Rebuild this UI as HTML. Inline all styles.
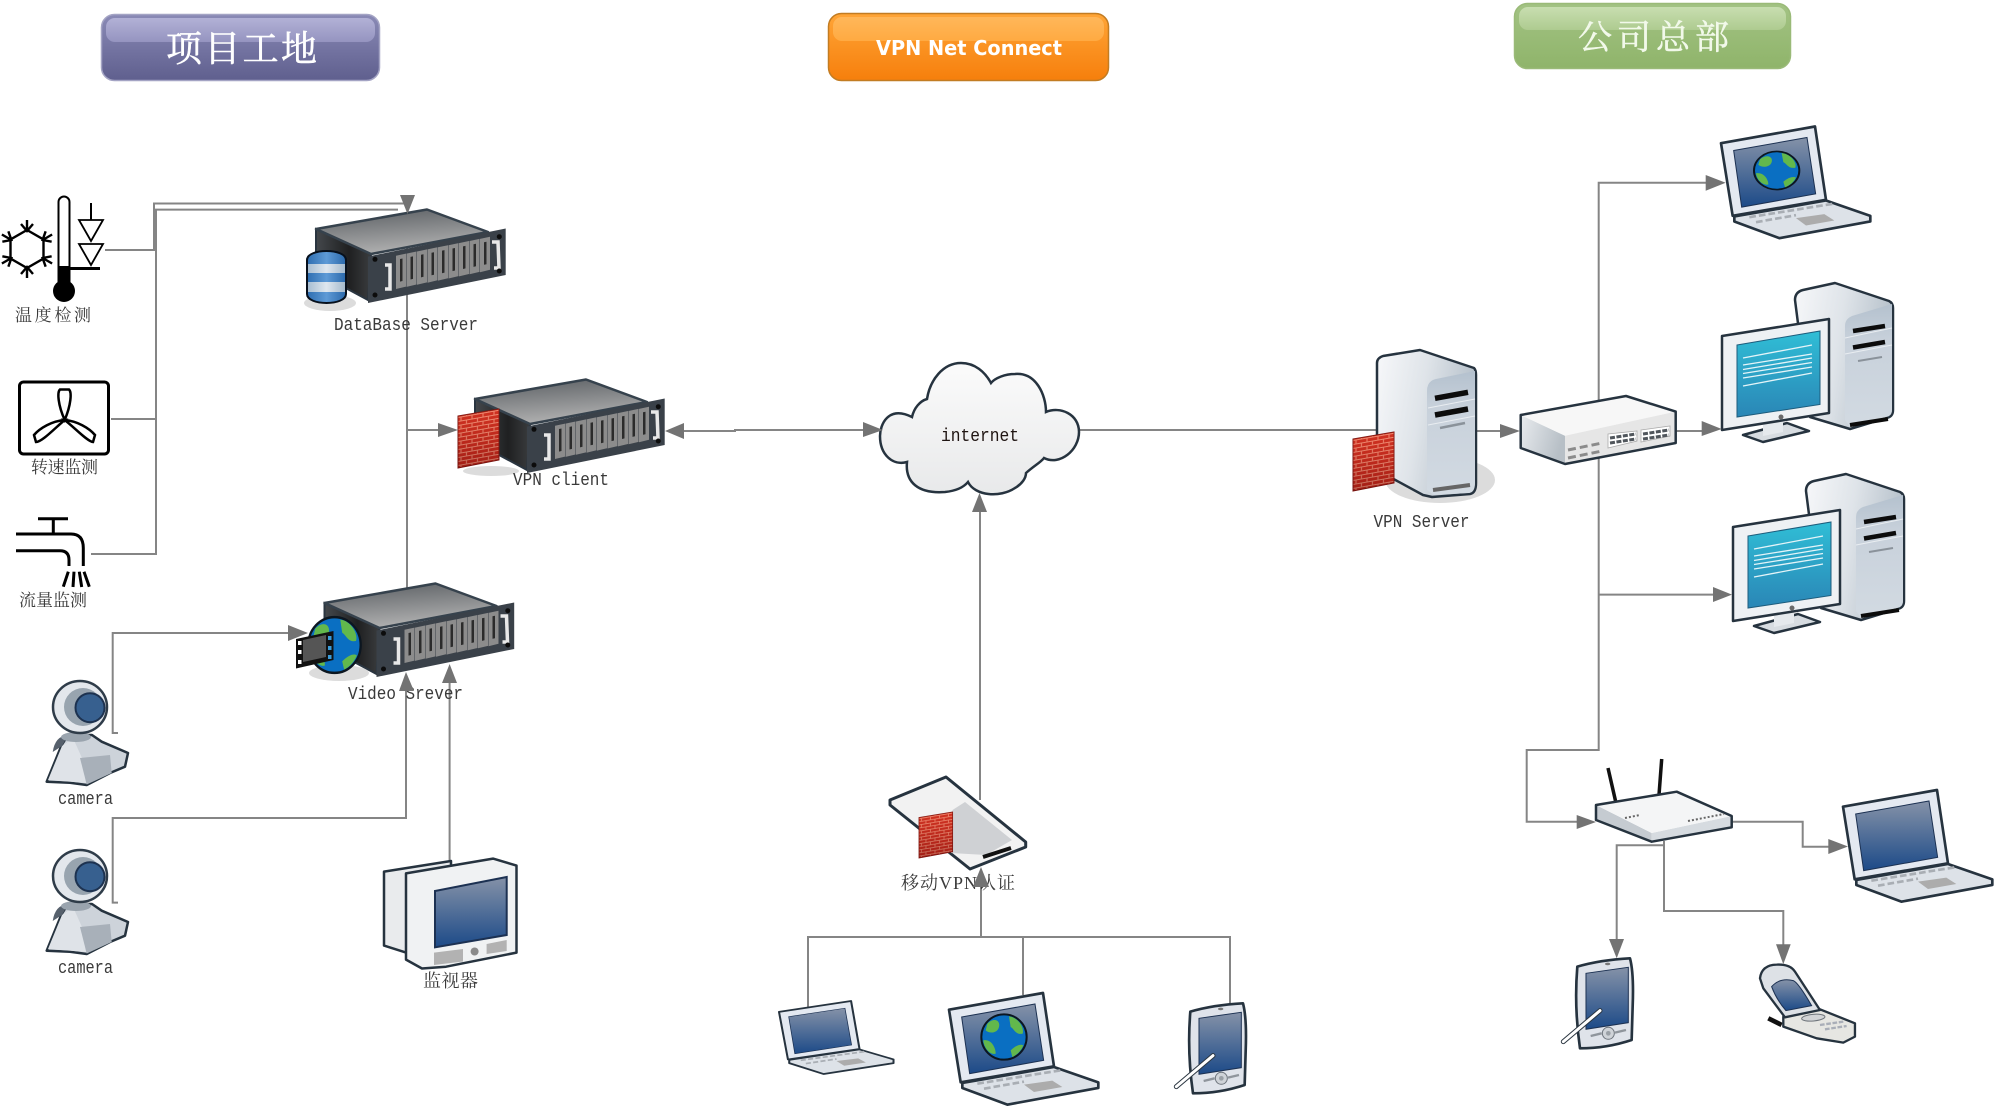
<!DOCTYPE html>
<html lang="zh"><head><meta charset="utf-8"><title>VPN Network Diagram</title>
<style>
html,body{margin:0;padding:0;background:#fff;width:2000px;height:1112px;overflow:hidden}
svg{display:block}
.cjk{font-family:"Liberation Serif","Noto Serif CJK SC",serif;font-size:17px;fill:#3a3a3a}
.mono{font-family:"Liberation Mono","Noto Serif CJK SC",monospace;font-size:18px;fill:#3a3a3a}
.ttl{font-family:"Noto Serif CJK SC",serif;font-size:36px;fill:#fff;stroke:#fff;stroke-width:.5}
.ln{fill:none;stroke:#858585;stroke-width:2}
.ar{fill:#737373}
.k{stroke:#26333f;stroke-linejoin:round}
</style></head><body>
<svg width="2000" height="1112" viewBox="0 0 2000 1112" xmlns="http://www.w3.org/2000/svg">
<defs>
<linearGradient id="pur" x1="0" y1="0" x2="0" y2="1"><stop offset="0" stop-color="#8a8ab6"/><stop offset="1" stop-color="#5f5f8e"/></linearGradient>
<linearGradient id="purG" x1="0" y1="0" x2="0" y2="1"><stop offset="0" stop-color="#b2b1d6"/><stop offset="1" stop-color="#9594c0"/></linearGradient>
<linearGradient id="org" x1="0" y1="0" x2="0" y2="1"><stop offset="0" stop-color="#ffa537"/><stop offset="1" stop-color="#f67f0c"/></linearGradient>
<linearGradient id="orgG" x1="0" y1="0" x2="0" y2="1"><stop offset="0" stop-color="#ffb75a"/><stop offset="1" stop-color="#ffaa42"/></linearGradient>
<linearGradient id="grn" x1="0" y1="0" x2="0" y2="1"><stop offset="0" stop-color="#a3c384"/><stop offset="1" stop-color="#8fb46a"/></linearGradient>
<linearGradient id="grnG" x1="0" y1="0" x2="0" y2="1"><stop offset="0" stop-color="#c8deb0"/><stop offset="1" stop-color="#aecb90"/></linearGradient>
<linearGradient id="srvT" x1="0.2" y1="0" x2="0.5" y2="1"><stop offset="0" stop-color="#5d6165"/><stop offset="1" stop-color="#b4b4b4"/></linearGradient>
<linearGradient id="srvS" x1="0" y1="0" x2="1" y2="0"><stop offset="0" stop-color="#44484c"/><stop offset="0.6" stop-color="#1f2021"/><stop offset="1" stop-color="#3a3c3e"/></linearGradient>
<linearGradient id="scr" x1="0" y1="0" x2="0" y2="1"><stop offset="0" stop-color="#8592a8"/><stop offset="1" stop-color="#1c4a88"/></linearGradient>
<linearGradient id="cyan" x1="0" y1="0" x2="0" y2="1"><stop offset="0" stop-color="#30bed6"/><stop offset="1" stop-color="#2a86b6"/></linearGradient>
<linearGradient id="tw" x1="0" y1="0" x2="1" y2="0.25"><stop offset="0" stop-color="#f7f8fa"/><stop offset="0.5" stop-color="#dfe4e9"/><stop offset="1" stop-color="#b5c0ca"/></linearGradient>
<linearGradient id="cl" x1="0" y1="0" x2="0" y2="1"><stop offset="0" stop-color="#fbfbfb"/><stop offset="1" stop-color="#e8e9ea"/></linearGradient>
<linearGradient id="face" x1="0" y1="0" x2="0" y2="1"><stop offset="0" stop-color="#b4c1ce"/><stop offset="0.3" stop-color="#c8d1db"/><stop offset="1" stop-color="#d2dae2"/></linearGradient>
<linearGradient id="sw" x1="0" y1="0" x2="1" y2="0.3"><stop offset="0" stop-color="#e8ebee"/><stop offset="1" stop-color="#b7bfc6"/></linearGradient>
<linearGradient id="dbb" x1="0" y1="0" x2="1" y2="0"><stop offset="0" stop-color="#2d6db0"/><stop offset="0.5" stop-color="#5e9ad6"/><stop offset="1" stop-color="#2a68aa"/></linearGradient>
<linearGradient id="dbl" x1="0" y1="0" x2="1" y2="0"><stop offset="0" stop-color="#a8bed2"/><stop offset="0.5" stop-color="#dfe7ef"/><stop offset="1" stop-color="#a4bacd"/></linearGradient>
<pattern id="brick" width="11" height="8" patternUnits="userSpaceOnUse" patternTransform="skewY(-10)">
<rect width="11" height="8" fill="#c42a1e"/>
<path d="M0 0.5H11M0 4.5H11M3 0.5V4.5M8.5 4.5V8" stroke="#ee9880" stroke-width="1" fill="none"/>
</pattern>
<linearGradient id="fwS" x1="0" y1="0" x2="0" y2="1"><stop offset="0" stop-color="#ff5030" stop-opacity=".2"/><stop offset="1" stop-color="#500000" stop-opacity=".3"/></linearGradient>

<g id="fw">
<polygon points="0,7 41,0 41,51 0,59" fill="url(#brick)" stroke="#7a1510" stroke-width="1"/>
<polygon points="0,7 41,0 41,51 0,59" fill="url(#fwS)"/>
</g>

<g id="srv">
<polygon points="316,229 371,254 368,300 316,272" fill="url(#srvS)" stroke="#2a3540" stroke-width="2"/>
<polygon points="316,229 427,209.5 488,232 371,254" fill="url(#srvT)" stroke="#36424d" stroke-width="2.5" stroke-linejoin="round"/>
<polygon points="368,256.5 505.7,228.5 505.7,275 368,303" fill="#3a4149"/>
<g id="sl0"><polygon points="396,255.7 406,253.6 406,286.6 396,289" fill="#8c8c8c"/><polygon points="400,259 402.5,258.5 402.5,281 400,281.6" fill="#2b2b2b"/></g>
<use href="#sl0" transform="translate(10.5,-2.1)"/><use href="#sl0" transform="translate(21,-4.2)"/><use href="#sl0" transform="translate(31.5,-6.3)"/><use href="#sl0" transform="translate(42,-8.4)"/><use href="#sl0" transform="translate(52.5,-10.5)"/><use href="#sl0" transform="translate(63,-12.6)"/><use href="#sl0" transform="translate(73.5,-14.7)"/><use href="#sl0" transform="translate(84,-16.8)"/>
<path d="M385,265H390V289H385" fill="none" stroke="#e8e8e8" stroke-width="3.5"/>
<path d="M492,242H498L499,268H494" fill="none" stroke="#e8e8e8" stroke-width="3.5"/>
<circle cx="375" cy="259.3" r="2.5" fill="#0c0c0c"/><circle cx="375" cy="295" r="2.5" fill="#0c0c0c"/><circle cx="499.3" cy="236.7" r="2.5" fill="#0c0c0c"/><circle cx="499.3" cy="271" r="2.5" fill="#0c0c0c"/>
</g>

<g id="globe">
<circle r="68" fill="#0a6fc2" stroke="#0c1620" stroke-width="6"/>
<g fill="#62b84c"><path d="M-50,-40C-30,-60-10,-50-15,-30C-20,-10-45,-10-55,-20Z"/><path d="M15,-62C40,-60 62,-30 56,-10C35,-5 30,-25 20,-30Z"/><path d="M-62,10C-40,5-25,30-25,50C-40,55-60,35-62,10Z"/><path d="M20,40C35,25 50,20 58,25C50,45 35,55 25,60Z"/></g>
</g>

<g id="lap">
<polygon class="k" points="0,50 282,0 315,220 35,268" fill="#e4e9f1" stroke-width="8"/>
<polygon points="38,72 258,33 284,202 62,242" fill="url(#scr)" stroke="#1c3152" stroke-width="3"/>
<polygon class="k" points="40,270 315,222 448,268 448,285 175,335 40,285" fill="#dde2e8" stroke-width="8"/>
<path d="M85,272L335,232M105,287L225,266" stroke="#a9aeb4" stroke-width="8" stroke-dasharray="20 9" fill="none"/>
<polygon points="225,275 310,263 340,282 255,297" fill="#acacac"/>
</g>

<g id="desk">
<path class="k" d="M295,300Q295,292 303,290L335,283L389,301Q393,303 393,308V410Q393,417 386,418L350,429L310,417Z" fill="url(#tw)" stroke-width="2.5"/>
<path d="M345,326Q345,319 352,316L392,304V410Q392,416 386,417L350,427L345,420Z" fill="url(#face)"/>
<path d="M345,338L392,328M345,354L392,345" stroke="#e9edf1" stroke-width="1"/>
<path d="M353,331L385,326M353,347.5L385,342" stroke="#0c0c0c" stroke-width="4.500"/>
<path d="M358,361L382,357" stroke="#8a929a" stroke-width="2"/>
<path d="M350,425L388,419" stroke="#0c0c0c" stroke-width="4"/>
<polygon class="k" points="243,435 287,423 309,431 263,442" fill="#d7dce1" stroke-width="2.5"/>
<polygon points="263,425 283,420 283,432 263,436" fill="#e5e9ed"/>
<polygon class="k" points="222,336 329,319 329,413 222,430" fill="#eef1f4" stroke-width="2.5"/>
<polygon points="237,345 320,331 320,404.5 237,417" fill="url(#cyan)" stroke="#1d5c7c" stroke-width="1"/>
<path d="M243,358L312,345M243,365L312,354M243,369.500L312,358M243,373.500L312,362.500M243,378L312,367M243,386L312,373" stroke="#e4f4f8" stroke-width="1.300"/>
<circle cx="281" cy="417" r="2.500" fill="#6a6a6a"/>
</g>

<g id="pda">
<path class="k" d="M232,680Q300,660 390,655Q402,700 398,800L395,900Q320,925 240,925Q222,800 232,680Z" fill="#dfe3ea" stroke-width="8"/>
<polygon points="258,700 385,682 385,848 258,868" fill="url(#scr)" stroke="#1c3152" stroke-width="3"/>
<circle cx="325" cy="880" r="18" fill="#cfd3d8" stroke="#6d747c" stroke-width="3"/>
<circle cx="325" cy="880" r="7" fill="#9aa0a6"/>
<path d="M272,888L305,880M345,878L378,870" stroke="#8f959c" stroke-width="7"/>
<ellipse cx="323" cy="672" rx="8" ry="4" fill="#777"/>
<path d="M300,812L190,905" stroke="#2a3540" stroke-width="15" stroke-linecap="round"/>
<path d="M300,812L190,905" stroke="#fff" stroke-width="9" stroke-linecap="round"/>
</g>

<g id="cam">
<path class="k" d="M46.700,781.700L61.700,745L68,735L92,735L101.700,741.700L128,753L125,766.700L110,773L86.700,785L70,782.700Z" fill="#cdd3da" stroke-width="2.500"/>
<path d="M48,780L62,746L73,738L82,758L86,783Z" fill="#dfe3e8"/>
<polygon points="80,758 110,755 111.700,773 86.700,784.500" fill="#a8b0b9"/>
<path d="M68,735Q55,736 52.700,752L62,746Z" fill="#56606c"/>
<ellipse cx="76" cy="737" rx="15" ry="5" fill="#9aa4ae"/>
<ellipse cx="80" cy="707" rx="27" ry="26" fill="#e3e7ec" stroke="#2f3c49" stroke-width="2.500"/>
<circle cx="83" cy="707" r="19" fill="#98a4af"/>
<circle cx="90" cy="707.700" r="14.500" fill="#37608f" stroke="#1d3250" stroke-width="2"/>
</g>
</defs>

<rect width="2000" height="1112" fill="#fff"/>

<!-- title bars -->
<rect x="101.500" y="14.500" width="278" height="66" rx="13" fill="url(#pur)" stroke="#a4a4c4" stroke-width="1.500"/>
<rect x="106" y="18" width="269" height="24" rx="9" fill="url(#purG)"/>
<text class="ttl" x="166" y="61" textLength="151" lengthAdjust="spacing">项目工地</text>

<rect x="828.500" y="13.500" width="280" height="67" rx="13" fill="url(#org)" stroke="#c27c22" stroke-width="1.500"/>
<rect x="833" y="17" width="271" height="24" rx="9" fill="url(#orgG)"/>
<text x="876" y="55" textLength="186" lengthAdjust="spacingAndGlyphs" font-family="'DejaVu Sans',sans-serif" font-weight="700" font-size="20" fill="#fff">VPN Net Connect</text>

<rect x="1514.500" y="3.500" width="276" height="65" rx="13" fill="url(#grn)" stroke="#9aba78" stroke-width="1.500"/>
<rect x="1519" y="7" width="267" height="23" rx="9" fill="url(#grnG)"/>
<text class="ttl" x="1578" y="49" textLength="151" lengthAdjust="spacing" style="font-size:34px;fill:#f2f9ea;stroke:#f2f9ea">公司总部</text>

<!-- connectors -->
<path class="ln" d="M105,250H154V203.500H407"/>
<path class="ln" d="M398,209.600H156V554H91"/>
<path class="ln" d="M111,419H156"/>
<path class="ln" d="M407,214V590"/>
<path class="ln" d="M406,430H440"/>
<path class="ln" d="M682,431H735V430H865"/>
<path class="ln" d="M1078,430H1380"/>
<path class="ln" d="M980,510V800"/>
<path class="ln" d="M981,885V937"/>
<path class="ln" d="M808,1008V937H1230V1004"/>
<path class="ln" d="M1023,937V995"/>
<path class="ln" d="M118,733H112.700V633H290"/>
<path class="ln" d="M118,902.600H112.700V818H406V690"/>
<path class="ln" d="M449.600,861V682"/>
<path class="ln" d="M1476,431H1502"/>
<path class="ln" d="M1598.700,401V182.700H1707"/>
<path class="ln" d="M1598.700,455V750H1526.700V821.700H1578"/>
<path class="ln" d="M1598.700,594.600H1715"/>
<path class="ln" d="M1675,431H1703"/>
<path class="ln" d="M1731,821.700H1802.700V846.700H1830"/>
<path class="ln" d="M1663,845.300H1616.700V940"/>
<path class="ln" d="M1664,841V911H1783.300V946"/>

<!-- temperature -->
<g stroke="#000" fill="none" stroke-width="2.400">
<polygon points="27,230 43.500,239.500 43.500,258.500 27,268 10.500,258.500 10.500,239.500"/>
<g id="sp"><path d="M27,230V220M21,224L27,231L33,224"/></g>
<use href="#sp" transform="rotate(60 27 249)"/><use href="#sp" transform="rotate(120 27 249)"/><use href="#sp" transform="rotate(180 27 249)"/><use href="#sp" transform="rotate(240 27 249)"/><use href="#sp" transform="rotate(300 27 249)"/>
</g>
<path d="M58.500,202a5.500,5.500 0 0 1 11,0V281H58.500Z" fill="#fff" stroke="#000" stroke-width="2"/>
<rect x="58" y="266" width="12" height="18" fill="#000"/>
<circle cx="64" cy="291" r="11" fill="#000"/>
<path d="M70,268.500H100" stroke="#000" stroke-width="3"/>
<path d="M91,203V220" stroke="#000" stroke-width="2"/>
<path d="M79,220H103L91,241ZM79,244H103L91,265Z" fill="#fff" stroke="#000" stroke-width="1.800"/>
<text class="cjk" x="15" y="321" textLength="76" lengthAdjust="spacing">温度检测</text>

<!-- fan -->
<rect x="19.500" y="382" width="89" height="72" rx="4" fill="#fff" stroke="#000" stroke-width="3"/>
<g fill="none" stroke="#000" stroke-width="2.500">
<path d="M64.700,420C58,405 57,392 60,389.500H69C72,392 71,405 64.700,420Z"/>
<path d="M64.700,420C55,428 42,442 36,442L34,435C40,428 52,421 64.700,420Z"/>
<path d="M64.700,420C75,428 88,442 93,442L95,435C89,428 77,421 64.700,420Z"/>
</g>
<text class="cjk" x="31" y="473" textLength="67" lengthAdjust="spacing">转速监测</text>

<!-- faucet -->
<g fill="none" stroke="#000" stroke-width="3">
<path d="M38,518.700H68M53.300,518.700V534"/>
<path d="M16,534H71Q83.300,534 83.300,548V566"/>
<path d="M16,550.700H60Q69,550.700 69,560V566"/>
<path d="M68.300,571.700L63.300,586.700M74,571.700L73,587M79.300,571.700L81.700,587M84,571.700L89.300,586.700"/>
</g>
<text class="cjk" x="19" y="606" textLength="68" lengthAdjust="spacing">流量监测</text>

<!-- DB server -->
<use href="#srv"/>
<ellipse cx="330" cy="303" rx="26" ry="8" fill="#dcdcdc"/>
<g>
<path d="M307,260C307,248 346,248 346,260V294C346,306 307,306 307,294Z" fill="url(#dbb)" stroke="#07101c" stroke-width="2"/>
<rect x="308" y="264" width="37" height="9" fill="url(#dbl)"/><rect x="308" y="282" width="37" height="10" fill="url(#dbl)"/>
</g>
<text class="mono" x="334" y="330" textLength="144" lengthAdjust="spacingAndGlyphs">DataBase Server</text>

<!-- VPN client -->
<use href="#srv" transform="translate(159,170)"/>
<ellipse cx="491" cy="471" rx="28" ry="5" fill="#dcdcdc"/>
<use href="#fw" transform="translate(458,409)"/>
<text class="mono" x="513" y="485" textLength="96" lengthAdjust="spacingAndGlyphs">VPN client</text>

<!-- Video server -->
<use href="#srv" transform="translate(8.500,374)"/>
<ellipse cx="339" cy="673" rx="30" ry="8" fill="#dcdcdc"/>
<g transform="translate(334.500,645) scale(.385,.41)"><use href="#globe"/></g>
<polygon points="296,639 333.500,631 333.500,660 296,668.500" fill="#111"/>
<polygon points="303,640 326,635 326,657 303,662" fill="#555"/>
<g fill="#fff"><rect x="298" y="641" width="3.500" height="4"/><rect x="298" y="650" width="3.500" height="4"/><rect x="298" y="660" width="3.500" height="4"/></g>
<g fill="#3a9bd8"><rect x="328" y="636" width="3.500" height="4"/><rect x="328" y="646" width="3.500" height="4"/><rect x="328" y="655" width="3.500" height="4"/></g>
<text class="mono" x="348" y="699" textLength="115" lengthAdjust="spacingAndGlyphs">Video Srever</text>

<!-- cameras -->
<use href="#cam"/>
<text class="mono" x="58" y="804" textLength="55" lengthAdjust="spacingAndGlyphs">camera</text>
<use href="#cam" transform="translate(0,169)"/>
<text class="mono" x="58" y="973" textLength="55" lengthAdjust="spacingAndGlyphs">camera</text>

<!-- monitor -->
<polygon class="k" points="384,871.600 451,861 451,950 406,952.600 384,945.600" fill="#e9ebed" stroke-width="2.500"/>
<polygon class="k" points="406,873.400 493,858.600 516.500,865.600 516.500,952.600 446,966.700 422,968.500 406,959.600" fill="#f0f2f3" stroke-width="2.500"/>
<polygon points="435,891 506.700,877 506.700,935 435,947.300" fill="url(#scr)" stroke="#1c3152" stroke-width="2"/>
<polygon points="434,952.600 463,949 463,961.500 434,965" fill="#b2b2b2"/>
<polygon points="486.600,944 506.700,940 506.700,951 486.600,954" fill="#b2b2b2"/>
<circle cx="474.600" cy="951.500" r="4" fill="#8a8a8a"/>
<text class="cjk" x="423" y="987" textLength="55" lengthAdjust="spacing" style="font-size:18px">监视器</text>

<!-- cloud -->
<path d="M912,417C888,405 880,425 880,436C880,455 893,466 907,462C905,482 918,494 945,492C955,491 963,488 968,482C975,496 1000,498 1015,488C1022,484 1026,478 1026,473C1035,465 1040,463 1044,458C1060,466 1079,450 1079,432C1079,414 1060,406 1046,412C1046,395 1036,372 1015,374C1005,374 995,378 991,383C985,372 975,363 961,363C943,363 930,380 927,399C920,401 914,408 912,417Z" fill="url(#cl)" stroke="#26333f" stroke-width="2.500"/>
<text class="mono" x="941" y="441" textLength="78" lengthAdjust="spacingAndGlyphs" style="fill:#1f1512">internet</text>

<!-- VPN server -->
<ellipse cx="1440" cy="480" rx="55" ry="23" fill="#dcdcdc"/>
<path class="k" d="M1377,363Q1377,358 1383,356L1420,350L1474,368Q1476,370 1476,375V483Q1476,493 1470,494L1432,497L1423,495L1377,470Z" fill="url(#tw)" stroke-width="2.500"/>
<path d="M1427,391Q1427,381 1436,379L1475,371V483Q1475,492 1469,493L1434,495L1427,490Z" fill="url(#face)"/>
<path d="M1428,408L1475,399M1428,425L1475,416" stroke="#e9edf1" stroke-width="1"/>
<path d="M1435,398.300L1468,392.300M1435,415L1468,409" stroke="#0c0c0c" stroke-width="5.500"/>
<path d="M1440,428L1465,423" stroke="#8a929a" stroke-width="2.500"/>
<path d="M1433,490L1470,485" stroke="#666" stroke-width="4"/>
<use href="#fw" transform="translate(1353,432)"/>
<text class="mono" x="1373.500" y="527" textLength="96" lengthAdjust="spacingAndGlyphs">VPN Server</text>

<!-- mobile card -->
<polygon class="k" points="890,800 946,777 1025.700,842 1025.700,847 970,869 890,805" fill="#f2f2f2" stroke-width="3"/>
<polygon points="965,802 1012,840 986,855 951,853 952.500,810" fill="#cfd1d4"/>
<path d="M983,857L1011,848" stroke="#111" stroke-width="4"/>
<g transform="translate(919,812) scale(.82,.78)"><use href="#fw"/></g>

<!-- bottom devices -->
<g transform="translate(779,1001) scale(.2556,.218)"><use href="#lap"/></g>
<g transform="translate(949,993) scale(.3333)"><use href="#lap"/><use href="#globe" transform="translate(165,132)"/></g>
<use href="#pda" transform="translate(1113,785) scale(.3333)"/>

<!-- HQ -->
<g transform="translate(1721,126.500) scale(.3333)"><use href="#lap"/><use href="#globe" transform="translate(167,132) scale(1,.84)"/></g>
<use href="#desk" transform="translate(1500,0)"/>
<use href="#desk" transform="translate(1511,191)"/>

<!-- switch -->
<polygon points="1520.700,415 1565,435.700 1565,464 1520.700,448" fill="url(#sw)"/>
<polygon points="1520.700,415 1626,396 1675.700,411.600 1565,435.700" fill="#f7f7f7"/>
<polygon points="1565,435.700 1675.700,411.600 1675.700,443 1565,464" fill="#e6e6e6"/>
<polygon class="k" points="1520.700,415 1626,396 1675.700,411.600 1675.700,443 1565,464 1520.700,448" fill="none" stroke-width="2.500"/>
<path d="M1568,450L1602,443M1568,458L1602,451" stroke="#8b8b8b" stroke-width="3" stroke-dasharray="8 4"/>
<polygon points="1608,434 1637,431 1637,441 1608,448" fill="#fff" stroke="#aaa" stroke-width=".8"/>
<polygon points="1641,430 1670,426 1670,436 1641,442" fill="#fff" stroke="#aaa" stroke-width=".8"/>
<path d="M1610,438L1636,434M1610,443L1636,439M1643,434L1669,430M1643,439L1669,435" stroke="#50565c" stroke-width="3" stroke-dasharray="5 1.500"/>

<!-- router -->
<path d="M1608,768L1615.700,801.700M1661.700,759L1659,795" stroke="#111" stroke-width="3.500"/>
<polygon points="1596,805 1651.700,833 1651.700,841.700 1596,820" fill="#c5cbd1"/>
<polygon points="1651.700,833 1731.700,816 1731.700,827.300 1651.700,841.700" fill="#d6dbe0"/>
<polygon points="1596,805 1676.700,791.700 1731.700,816 1651.700,833" fill="#f4f5f6"/>
<polygon class="k" points="1596,805 1676.700,791.700 1731.700,816 1731.700,827.300 1651.700,841.700 1596,820" fill="none" stroke-width="2.500"/>
<path d="M1625,818L1640,815M1688,821L1724,814" stroke="#666" stroke-width="2" stroke-dasharray="2 2"/>

<!-- right laptop -->
<g transform="translate(1843,790) scale(.3333)"><use href="#lap"/></g>

<!-- right PDA -->
<use href="#pda" transform="translate(1500,740) scale(.3333)"/>

<!-- flip phone -->
<g transform="translate(1500,740) scale(.3333)">
<path d="M805,835L845,855" stroke="#111" stroke-width="14"/>
<path class="k" d="M850,830L960,808L1065,850V890L1030,908L950,895L850,860Z" fill="#e6e6e2" stroke-width="7"/>
<path class="k" d="M780,715Q785,675 830,674Q870,672 885,695L960,810L855,832Q820,785 790,745Z" fill="#dde1e6" stroke-width="7"/>
<path d="M815,740Q840,712 880,722Q895,728 935,797L858,812Q830,780 815,740Z" fill="url(#scr)" stroke="#1c3152" stroke-width="3"/>
<ellipse cx="940" cy="833" rx="35" ry="10" fill="#d2d4d6" stroke="#6f757b" stroke-width="3" transform="rotate(-5 940 833)"/>
<path d="M960,855L1030,845M975,868L1040,858" stroke="#a9aeb8" stroke-width="7" stroke-dasharray="14 5"/>
</g>

<!-- arrowheads on top -->
<polygon class="ar" points="400,195 415,195 407.500,214"/>
<polygon class="ar" points="438,423 458,430 438,437"/>
<polygon class="ar" points="684,423 665,431 684,439"/>
<polygon class="ar" points="863,422 883,430 863,437"/>
<polygon class="ar" points="972,512 987,512 979.500,493"/>
<polygon class="ar" points="288,625 308,633 288,641"/>
<polygon class="ar" points="399,691 414,691 406,672"/>
<polygon class="ar" points="442,683 457,683 449.600,664"/>
<polygon class="ar" points="1500,424 1520,431 1500,438"/>
<polygon class="ar" points="1705.700,175 1725.700,182.700 1705.700,190.700"/>
<polygon class="ar" points="1701.700,421 1721.700,429 1701.700,436"/>
<polygon class="ar" points="1713,587 1732,594.600 1713,602"/>
<polygon class="ar" points="1576.700,815 1596,822 1576.700,829"/>
<polygon class="ar" points="1828.300,839 1848,846.500 1828.300,854"/>
<polygon class="ar" points="1609,939 1624,939 1616.700,958.300"/>
<polygon class="ar" points="1776,944.300 1790.700,944.300 1783.300,964.300"/>

<text class="cjk" x="901" y="889" textLength="114" lengthAdjust="spacing" style="font-size:18px">移动VPN认证</text>
<polygon class="ar" points="973,887 989,887 981,867"/>
</svg>
</body></html>
